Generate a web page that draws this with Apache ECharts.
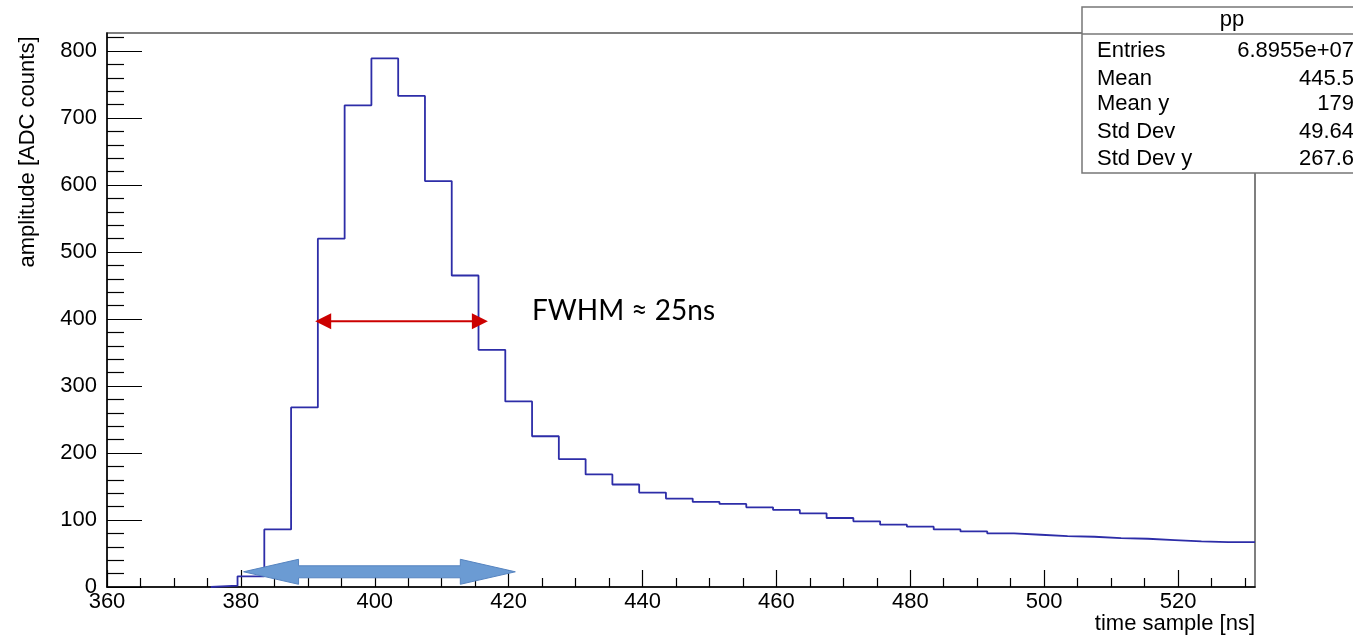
<!DOCTYPE html>
<html><head><meta charset="utf-8">
<script src="https://cdn.jsdelivr.net/npm/echarts@6/dist/echarts.min.js"></script>
<style>html,body{margin:0;padding:0;background:#fff}#c{width:1353px;height:636px}</style>
</head><body><div id="c"></div>
<script>
// ---- data ----
const binLowEdges = [375.5, 379.5, 383.5, 387.5, 391.5, 395.5, 399.5, 403.5, 407.5, 411.5,
  415.5, 419.5, 423.5, 427.5, 431.5, 435.5, 439.5, 443.5, 447.5, 451.5,
  455.5, 459.5, 463.5, 467.5, 471.5, 475.5, 479.5, 483.5, 487.5, 491.5,
  495.5, 499.5, 503.5, 507.5, 511.5, 515.5, 519.5, 523.5, 527.5];
const binWidth = 4;
const amplitudes = [2, 16, 86, 268, 520, 719, 789, 733, 606, 465,
  354, 277, 225, 191, 168, 153, 141, 132, 127, 124,
  119, 115, 110, 103, 98, 93, 90, 86, 83, 80,
  78, 76, 75, 73, 72, 70, 68, 67, 67];
const xMajorTicks = [360, 380, 400, 420, 440, 460, 480, 500, 520];
const xMinorTicks = [365, 370, 375, 385, 390, 395, 405, 410, 415, 425, 430, 435, 445, 450, 455,
  465, 470, 475, 485, 490, 495, 505, 510, 515, 525, 530];
const yMajorTicks = [0, 100, 200, 300, 400, 500, 600, 700, 800];
const yMinorTicks = [20, 40, 60, 80, 120, 140, 160, 180, 220, 240, 260, 280, 320, 340, 360, 380,
  420, 440, 460, 480, 520, 540, 560, 580, 620, 640, 660, 680, 720, 740, 760, 780, 820];
const statsTitle = 'pp';
const statsLabels = ['Entries', 'Mean', 'Mean y', 'Std Dev', 'Std Dev y'];
const statsValues = ['6.8955e+07', '445.5', '179', '49.64', '267.6'];
const fwhmText = 'FWHM ≈ 25ns';
const fwhmArrow = [[391.1, 396.8], [416.9, 396.8]];
const windowArrow = [[380.4, 22.7], [421.0, 22.7]];
const xTitle = 'time sample [ns]';
const yTitle = 'amplitude [ADC counts]';

// ---- build ----
const FONT = '"Liberation Sans", Arial, Helvetica, sans-serif';
const steps = [[binLowEdges[0], 0]];
binLowEdges.forEach((lo, i) => { steps.push([lo, amplitudes[i]]); steps.push([lo + binWidth, amplitudes[i]]); });

const chart = echarts.init(document.getElementById('c'), null, {renderer: 'canvas'});
const tickStyle = {color: '#000', width: 1.2};
chart.setOption({
  animation: false,
  backgroundColor: '#fff',
  grid: {left: 107, right: 98, top: 33, bottom: 49, show: true, borderColor: '#555', borderWidth: 1.5, backgroundColor: 'transparent'},
  xAxis: [
    {type: 'value', min: 360, max: 531.5, position: 'bottom',
      axisLine: {show: true, onZero: false, lineStyle: {color: '#000', width: 1.5}},
      axisTick: {show: true, inside: true, length: 17, customValues: xMajorTicks, lineStyle: tickStyle},
      axisLabel: {customValues: xMajorTicks, fontSize: 22, color: '#000', margin: 4, fontFamily: FONT},
      splitLine: {show: false}},
    {type: 'value', min: 360, max: 531.5, position: 'bottom',
      axisLine: {show: false, onZero: false},
      axisTick: {show: true, inside: true, length: 9, customValues: xMinorTicks, lineStyle: tickStyle},
      axisLabel: {show: false}, splitLine: {show: false}}
  ],
  yAxis: [
    {type: 'value', min: 0, max: 827, position: 'left',
      axisLine: {show: true, onZero: false, lineStyle: {color: '#000', width: 1.5}},
      axisTick: {show: true, inside: true, length: 35, customValues: yMajorTicks, lineStyle: tickStyle},
      axisLabel: {customValues: yMajorTicks, fontSize: 22, color: '#000', margin: 10, fontFamily: FONT},
      splitLine: {show: false}},
    {type: 'value', min: 0, max: 827, position: 'left',
      axisLine: {show: false, onZero: false},
      axisTick: {show: true, inside: true, length: 17, customValues: yMinorTicks, lineStyle: tickStyle},
      axisLabel: {show: false}, splitLine: {show: false}}
  ],
  series: [{
    type: 'line', name: statsTitle, xAxisIndex: 0, yAxisIndex: 0, data: steps,
    symbol: 'none', lineStyle: {color: '#2d2da8', width: 1.8}, z: 3
  }]
});

const P = p => chart.convertToPixel({xAxisIndex: 0, yAxisIndex: 0}, p);
const g = [];
// blue window arrow
{
  const a = P(windowArrow[0]), b = P(windowArrow[1]);
  const xl = a[0], xr = b[0], yc = a[1], hl = 55, hh = 12.5, sh = 6;
  g.push({type: 'polygon', z: 50, shape: {points: [
    [xl, yc], [xl + hl, yc - hh], [xl + hl, yc - sh], [xr - hl, yc - sh], [xr - hl, yc - hh], [xr, yc],
    [xr - hl, yc + hh], [xr - hl, yc + sh], [xl + hl, yc + sh], [xl + hl, yc + hh]]},
    style: {fill: '#6b9bd3', stroke: '#5684c0', lineWidth: 1}});
}
// red FWHM arrow
{
  const a = P(fwhmArrow[0]), b = P(fwhmArrow[1]);
  const xl = a[0], xr = b[0], yc = a[1], hl = 16, hh = 8;
  g.push({type: 'line', z: 50, shape: {x1: xl + 10, y1: yc, x2: xr - 10, y2: yc}, style: {stroke: '#cc0000', lineWidth: 2}});
  g.push({type: 'polygon', z: 51, shape: {points: [[xl, yc], [xl + hl, yc - hh], [xl + hl, yc + hh]]}, style: {fill: '#cc0000'}});
  g.push({type: 'polygon', z: 51, shape: {points: [[xr, yc], [xr - hl, yc - hh], [xr - hl, yc + hh]]}, style: {fill: '#cc0000'}});
  g.push({type: 'text', z: 51, x: 532, y: 311, style: {text: fwhmText, font: '28px Lato, "Open Sans", sans-serif', fill: '#000', align: 'left', verticalAlign: 'middle'}});
}
// axis titles
g.push({type: 'text', z: 51, x: 28, y: 152, rotation: Math.PI / 2, style: {text: yTitle, font: '22px ' + FONT, fill: '#000', align: 'center', verticalAlign: 'middle'}});
g.push({type: 'text', z: 51, x: 1255, y: 624, style: {text: xTitle, font: '22px ' + FONT, fill: '#000', align: 'right', verticalAlign: 'middle'}});
// stats box
g.push({type: 'rect', z: 60, shape: {x: 1082, y: 7, width: 300, height: 166}, style: {fill: '#fff', stroke: '#777', lineWidth: 1.5}});
g.push({type: 'line', z: 61, shape: {x1: 1082, y1: 34, x2: 1353, y2: 34}, style: {stroke: '#777', lineWidth: 1.5}});
g.push({type: 'text', z: 62, x: 1232, y: 20, style: {text: statsTitle, font: '22px ' + FONT, fill: '#000', align: 'center', verticalAlign: 'middle'}});
const rowY = [51, 79, 104, 132, 159];
statsLabels.forEach((t, i) => {
  g.push({type: 'text', z: 62, x: 1097, y: rowY[i], style: {text: t, font: '22px ' + FONT, fill: '#000', align: 'left', verticalAlign: 'middle'}});
  g.push({type: 'text', z: 62, x: 1354, y: rowY[i], style: {text: statsValues[i], font: '22px ' + FONT, fill: '#000', align: 'right', verticalAlign: 'middle'}});
});
chart.setOption({graphic: g});
</script></body></html>
